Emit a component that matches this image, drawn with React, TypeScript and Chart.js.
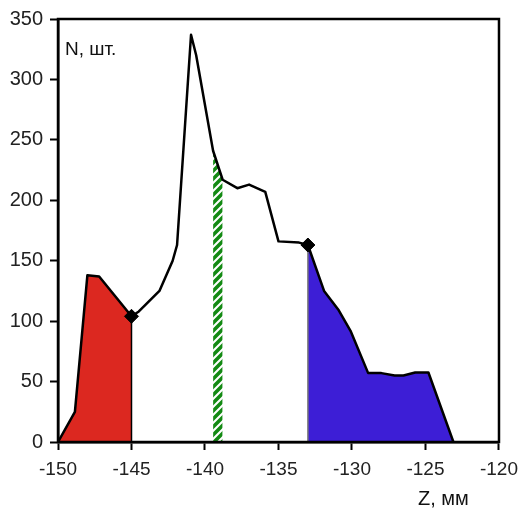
import React, { useEffect, useRef } from "react";
import { Chart, registerables } from "chart.js";

Chart.register(...registerables);

const zValues = [
  -150, -148.85, -148.0, -147.2, -145.0, -144.5, -143.1, -142.2, -141.9, -140.95,
  -140.6, -139.45, -138.8, -137.8, -137.0, -135.9, -135.0, -133.6, -133.0, -131.9,
  -130.9, -130.1, -128.9, -128.0, -127.1, -126.5, -125.7, -124.8, -123.1,
];
const nValues = [
  0, 25, 138, 137, 104, 108, 125, 150, 163, 337,
  320, 241, 217, 210, 213, 207, 166, 165, 163, 125,
  109, 92, 57, 57, 55, 55, 57.5, 57.5, 0,
];
const redRange = [-150, -145];
const greenRange = [-139.45, -138.8];
const blueRange = [-133, -123.1];
const markerZ = [-145, -133];
const xTicks = [-150, -145, -140, -135, -130, -125, -120];
const yTicks = [0, 50, 100, 150, 200, 250, 300, 350];
const yLabel = "N, шт.";
const xLabel = "Z, мм";

const points = zValues.map((z, i) => ({ x: z, y: nValues[i] }));
const segment = (r: number[]) => points.filter((p) => p.x >= r[0] - 1e-9 && p.x <= r[1] + 1e-9);
const valueAt = (z: number) => {
  const p = points.find((q) => Math.abs(q.x - z) < 1e-9);
  return p ? p.y : 0;
};

function makeHatch(): CanvasPattern | string {
  const c = document.createElement("canvas");
  c.width = 8;
  c.height = 8;
  const g = c.getContext("2d");
  if (!g) return "#138a13";
  g.fillStyle = "#ffffff";
  g.fillRect(0, 0, 8, 8);
  g.strokeStyle = "#138a13";
  g.lineWidth = 3.6;
  g.beginPath();
  g.moveTo(-2, 10);
  g.lineTo(10, -2);
  g.moveTo(-2, 2);
  g.lineTo(2, -2);
  g.moveTo(6, 10);
  g.lineTo(10, 6);
  g.stroke();
  const pat = g.createPattern(c, "repeat");
  return pat || "#138a13";
}

const overlayPlugin = {
  id: "overlay",
  afterDatasetsDraw(chart: any) {
    const { ctx, chartArea } = chart;
    ctx.save();
    ctx.strokeStyle = "#000";
    ctx.lineWidth = 2.5;
    ctx.strokeRect(chartArea.left, chartArea.top, chartArea.right - chartArea.left, chartArea.bottom - chartArea.top);
    ctx.fillStyle = "#111";
    ctx.textBaseline = "alphabetic";
    ctx.textAlign = "left";
    ctx.font = "19px 'Liberation Sans', Arial, sans-serif";
    ctx.fillText(yLabel, 65, 55);
    ctx.font = "20px 'Liberation Sans', Arial, sans-serif";
    ctx.fillText(xLabel, 418, 505);
    ctx.restore();
  },
};

export default function App() {
  const ref = useRef<HTMLCanvasElement | null>(null);
  useEffect(() => {
    if (!ref.current) return;
    const hatch = makeHatch();
    const chart = new Chart(ref.current, {
      type: "line",
      data: {
        datasets: [
          {
            data: points,
            borderColor: "#000",
            borderWidth: 2.5,
            borderJoinStyle: "round",
            borderCapStyle: "round",
            pointRadius: 0,
            fill: false,
            tension: 0,
            order: 1,
          },
          {
            data: markerZ.map((z) => ({ x: z, y: valueAt(z) })),
            showLine: false,
            pointStyle: "rectRot",
            pointRadius: 7,
            pointBackgroundColor: "#000",
            pointBorderColor: "#000",
            order: 0,
          },
          {
            data: segment(redRange),
            borderWidth: 0,
            pointRadius: 0,
            backgroundColor: "#dc2820",
            fill: "origin",
            tension: 0,
            order: 5,
          },
          {
            data: segment(greenRange),
            borderWidth: 0,
            pointRadius: 0,
            backgroundColor: hatch as any,
            fill: "origin",
            tension: 0,
            order: 5,
          },
          {
            data: segment(blueRange),
            borderWidth: 0,
            pointRadius: 0,
            backgroundColor: "#3d1ed6",
            fill: "origin",
            tension: 0,
            order: 5,
          },
          {
            data: [
              { x: redRange[1], y: 0 },
              { x: redRange[1], y: valueAt(redRange[1]) },
            ],
            borderColor: "#000",
            borderWidth: 1.5,
            pointRadius: 0,
            order: 3,
          },
          {
            data: [
              { x: blueRange[0], y: 0 },
              { x: blueRange[0], y: valueAt(blueRange[0]) },
            ],
            borderColor: "#777",
            borderWidth: 1.5,
            pointRadius: 0,
            order: 3,
          },
        ],
      },
      options: {
        responsive: false,
        animation: false,
        events: [],
        layout: { padding: { top: 16, right: 25, left: 0, bottom: 0 } },
        plugins: { legend: { display: false }, tooltip: { enabled: false } },
        scales: {
          x: {
            type: "linear",
            min: xTicks[0],
            max: xTicks[xTicks.length - 1],
            afterBuildTicks: (s: any) => {
              s.ticks = xTicks.map((v) => ({ value: v }));
            },
            afterFit: (s: any) => {
              s.height = 66;
            },
            grid: { drawOnChartArea: false, drawTicks: true, tickLength: 8, tickColor: "#000", tickWidth: 2 },
            border: { display: true, color: "#000", width: 2.5 },
            ticks: {
              color: "#222",
              padding: 8,
              maxRotation: 0,
              autoSkip: false,
              font: { family: "'Liberation Sans', Arial, sans-serif", size: 19 },
              callback: (v: any) => String(v),
            },
          },
          y: {
            type: "linear",
            min: yTicks[0],
            max: yTicks[yTicks.length - 1],
            afterBuildTicks: (s: any) => {
              s.ticks = yTicks.map((v) => ({ value: v }));
            },
            afterFit: (s: any) => {
              s.width = 58;
            },
            grid: { drawOnChartArea: false, drawTicks: true, tickLength: 8, tickColor: "#000", tickWidth: 2 },
            border: { display: true, color: "#000", width: 2.5 },
            ticks: {
              color: "#222",
              padding: 7,
              font: { family: "'Liberation Sans', Arial, sans-serif", size: 20 },
              callback: (v: any) => String(v),
            },
          },
        },
      },
      plugins: [overlayPlugin],
    });
    return () => chart.destroy();
  }, []);
  return (
    <div style={{ position: "fixed", left: 0, top: 0, width: 526, height: 508, background: "#fff" }}>
      <canvas ref={ref} width={526} height={508} style={{ display: "block" }} />
    </div>
  );
}
